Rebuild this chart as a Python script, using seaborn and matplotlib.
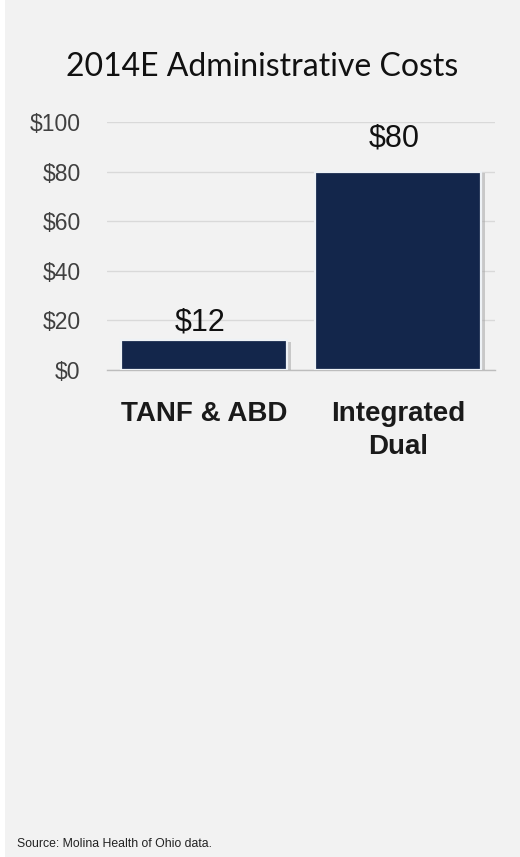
import matplotlib
matplotlib.use("Agg")
import matplotlib.pyplot as plt
import matplotlib.patheffects as pe
from matplotlib.patches import Rectangle
import seaborn as sns

# Data
categories = ["TANF & ABD", "Integrated\nDual"]
values = [12, 80]
value_labels = ["$12", "$80"]
y_ticks = [0, 20, 40, 60, 80, 100]
y_tick_labels = ["$0", "$20", "$40", "$60", "$80", "$100"]
title = "2014E Administrative Costs"
source = "Source: Molina Health of Ohio data."

BG = "#f2f2f2"
NAVY = "#13264b"

sns.set_theme(style="white")
plt.rcParams["font.family"] = ["Liberation Sans", "DejaVu Sans"]

fig = plt.figure(figsize=(5.2, 8.57), dpi=100, facecolor=BG)
# thin white margin along the left edge of the slide
fig.patches.append(Rectangle((0, 0), 5 / 520, 1, transform=fig.transFigure,
                             facecolor="white", edgecolor="none", zorder=0))

ax = fig.add_axes([107 / 520, 1 - 370 / 857, (495 - 107) / 520, (370 - 122) / 857])
ax.set_facecolor(BG)

sns.barplot(x=categories, y=values, ax=ax, color=NAVY, width=0.86,
            saturation=1, edgecolor="#eef2f6", linewidth=1.6, zorder=3)

for bar in ax.patches:
    bar.set_path_effects([pe.SimplePatchShadow(offset=(2.5, -1), shadow_rgbFace="#a0a0a0", alpha=0.5),
                          pe.Normal()])

ax.set_ylim(0, 100)
ax.set_xlim(-0.5, 1.5)
ax.set_yticks(y_ticks)
ax.set_yticklabels(y_tick_labels)
ax.yaxis.grid(True, color="#d9d9d9", linewidth=1.0, zorder=0)
ax.set_axisbelow(True)
for s in ["top", "right", "left"]:
    ax.spines[s].set_visible(False)
ax.spines["bottom"].set_color("#bdbdbd")
ax.spines["bottom"].set_linewidth(1.0)

ax.tick_params(axis="y", length=0, pad=19, labelsize=16.5, labelcolor="#404040")
ax.tick_params(axis="x", length=0, pad=22, labelsize=20, labelcolor="#1a1a1a")
for lbl in ax.get_xticklabels():
    lbl.set_fontweight("bold")
    lbl.set_linespacing(1.35)
ax.set_xlabel("")
ax.set_ylabel("")

# value labels above the bars
label_offsets = [2, 13]
for i, (v, txt) in enumerate(zip(values, value_labels)):
    ax.annotate(txt, (i, v), xytext=(-3, label_offsets[i]), textcoords="offset points",
                ha="center", va="bottom", fontsize=22, color="#111111")

fig.text(262 / 520, 1 - 67 / 857, title, ha="center", va="center",
         fontsize=23, family=["Lato", "DejaVu Sans"], color="#111111")
fig.text(17 / 520, 1 - 844 / 857, source, ha="left", va="center",
         fontsize=8.8, color="#222222")

fig.savefig("out.png", dpi=100, facecolor=BG)
